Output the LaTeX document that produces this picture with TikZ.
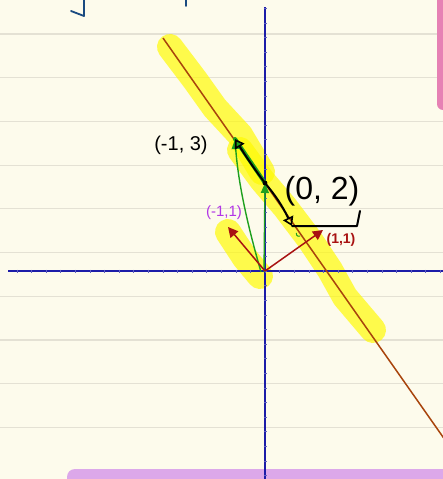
\documentclass[tikz,border=0pt]{standalone}
\usepackage{fontspec}
\setmainfont{Liberation Sans}
\usetikzlibrary{arrows.meta}
\definecolor{paper}{HTML}{FDFBEC}
\definecolor{rule}{HTML}{E4E1D4}
\definecolor{axisblue}{HTML}{1C1CA8}
\definecolor{inkblue}{HTML}{1A4A80}
\definecolor{brownline}{HTML}{A8440C}
\definecolor{hl}{HTML}{FFFA00}
\definecolor{redink}{HTML}{A81212}
\definecolor{purpleink}{HTML}{B236E6}
\definecolor{greenink}{HTML}{1EA01E}
\definecolor{pinkbar}{HTML}{E681B4}
\definecolor{purplebar}{HTML}{DCA8EA}
\tikzset{
  rulestyle/.style={rule, line width=1.2pt},
  axisstyle/.style={axisblue, line width=1.6pt},
  highlight/.style={hl, opacity=0.68, line width=26pt, line cap=round, line join=round},
  redarrow/.style={redink, line width=1.5pt, -{Triangle[length=10pt,width=10pt]}},
  greenarrow/.style={greenink, line width=1.4pt, -{Triangle[length=10pt,width=8pt]}},
  blackarrow/.style={black, line width=2pt, line join=round, -{Triangle[open,length=9pt,width=11pt,line width=1.6pt]}},
  handlabel/.style={inner sep=0pt}
}
\begin{document}
\begin{tikzpicture}[x=1pt,y=-1pt]
\useasboundingbox (0,0) rectangle (443,479);
\begin{scope}
\clip (0,0) rectangle (443,479);
\fill[paper] (0,0) rectangle (443,479);
% ruled lines
\foreach \yy in {34,77.7,121.4,165.1,208.8,252.5,296.2,339.9,383.6,427.3}
  \draw[rulestyle] (0,\yy) -- (443,\yy);
% side bars
\fill[pinkbar, rounded corners=6pt] (437,-20) rectangle (460,110);
\fill[purplebar, rounded corners=8pt] (67,469) rectangle (470,500);
% top ink marks
\draw[inkblue, line width=1.8pt, line cap=round, line join=round] (71,11) -- (84,16) -- (84,0);
\draw[inkblue, line width=1.8pt, line cap=round] (186,0) -- (186,6);

% key points
\coordinate (O) at (265,271);
\coordinate (P02) at (265,183);
\coordinate (P13) at (235,139);
\coordinate (P11) at (323,230);
\coordinate (Pm11) at (228,227);
\coordinate (LA) at (163,38);
\coordinate (LB) at (450,447);
\coordinate (XL) at (8,271);
\coordinate (XR) at (443,271);
\coordinate (YT) at (265,7);
\coordinate (YB) at (265,479);

% highlights
\draw[highlight] (170,47) -- (195,80) -- (215,108) -- (240,135) -- (262,172);
\draw[highlight] (240,150) -- (262,180) -- (285,207) -- (310,240) -- (330,270) -- (345,297) -- (373,330);
\draw[highlight] (228,232) -- (245,258) -- (260,276);

% axes
\draw[axisstyle] (XL) -- (XR);
\draw[axisstyle] (YT) -- (YB);
\foreach \k in {-17,...,14}
  \draw[axisblue!70, line width=0.5pt] (265+14.6*\k,269.5) -- (265+14.6*\k,272.5);
\foreach \k in {-18,...,14}
  \draw[axisblue!70, line width=0.5pt] (263.5,271+14.6*\k) -- (266.5,271+14.6*\k);

% brown line
\draw[brownline, line width=1.5pt] (LA) -- (LB);

% green
\draw[greenink, line width=4pt, line cap=round] (P13) -- (P02);
\draw[greenarrow] (261,272) .. controls (246,220) and (238,180) .. (P13);
\draw[greenarrow] (264,272) -- (P02);
\draw[greenink, line width=1pt] (300,236) arc (60:200:2.5);

% red arrows
\draw[redarrow] (O) -- (P11);
\draw[redarrow] (O) -- (Pm11);

% black
\coordinate (B1) at (292,226);
\coordinate (B2) at (357,226);
\coordinate (B3) at (360,211);
\draw[blackarrow] (P02) .. controls (255,170) and (245,155) .. (P13);
\draw[blackarrow] (P02) .. controls (275,195) and (282,205) .. (B1);
\draw[black, line width=2pt, line join=round, line cap=round] (B1) -- (B2) -- (B3);
\fill[black] (P02) circle (2.4pt);
\end{scope}

% labels
\node[handlabel, font=\fontsize{20}{22}\selectfont] (L13) at (181,145) {(-1, 3)};
\node[handlabel, font=\fontsize{32}{34}\selectfont] (L02) at (322,191) {(0, 2)};
\node[handlabel, font=\fontsize{15}{17}\selectfont, text=purpleink] (Lm11) at (224,213) {(-1,1)};
\node[handlabel, font=\bfseries\fontsize{14}{16}\selectfont, text=redink] (L11) at (341,240) {(1,1)};
\end{tikzpicture}
\end{document}
